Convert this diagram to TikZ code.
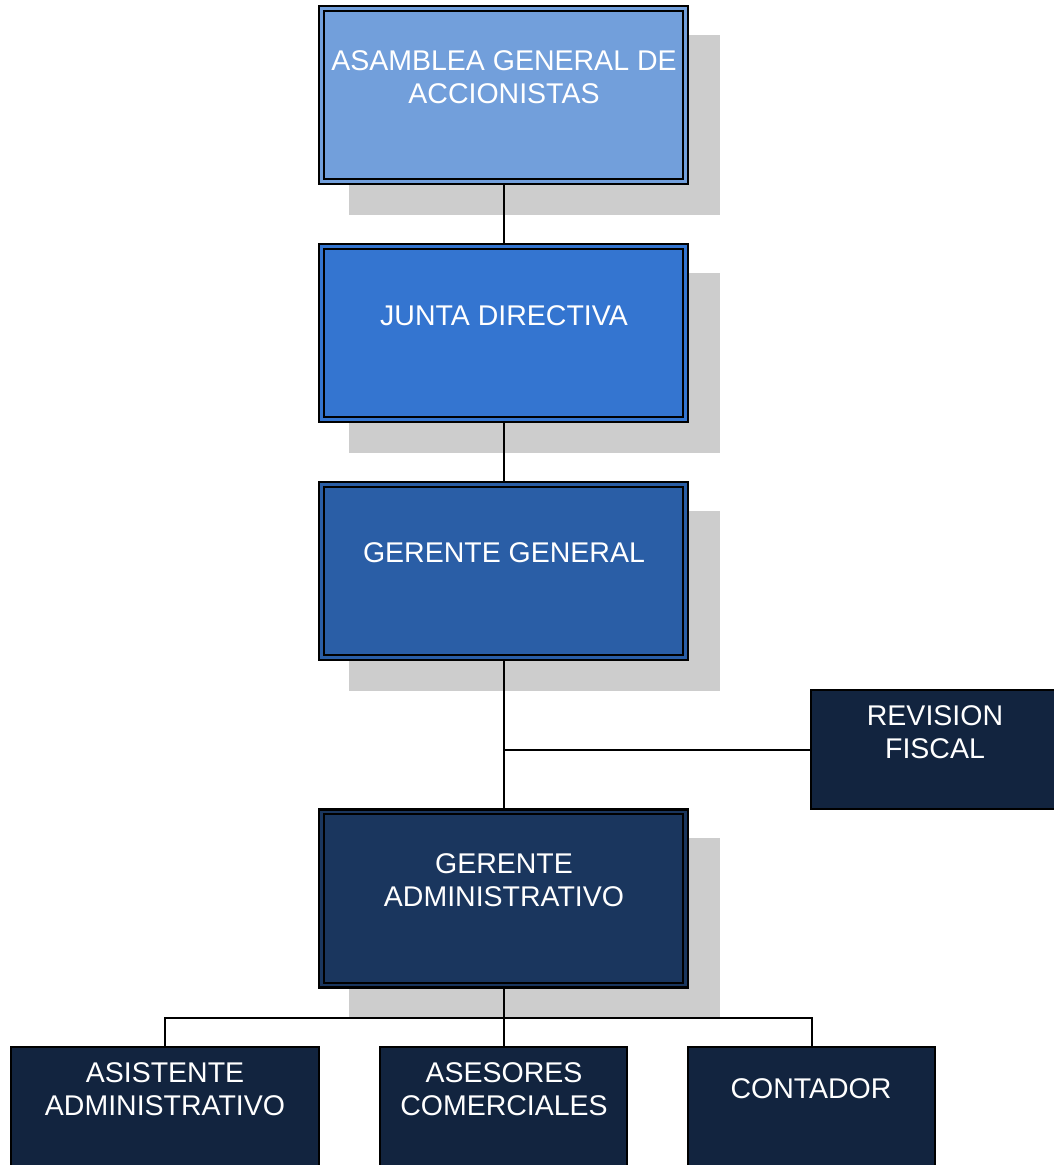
\documentclass[tikz,border=0pt]{standalone}
\usepackage{fontspec}
\setmainfont{Liberation Sans}
\definecolor{cA}{HTML}{729FDB}
\definecolor{cB}{HTML}{3475D0}
\definecolor{cC}{HTML}{2A5EA6}
\definecolor{cD}{HTML}{1A365E}
\definecolor{cE}{HTML}{12243F}
\definecolor{shadowgray}{HTML}{CDCDCD}
\begin{document}
\begin{tikzpicture}[x=1pt,y=-1pt,
  bigbox/.style={draw=black, line width=2.5pt, minimum width=369pt, minimum height=178pt, inner sep=0pt},
  smallbox/.style={draw=black, line width=1.8pt, fill=cE, inner sep=0pt},
  innerline/.style={draw=black, line width=2pt},
  label/.style={text=white, align=center, inner sep=0pt, font=\fontsize{28.5}{33}\selectfont},
  conn/.style={draw=black, line width=2pt},
  shadowbox/.style={fill=shadowgray}]
\useasboundingbox (0,0) rectangle (1054,1165);
% shadows
\fill[shadowbox] (349,35) rectangle (720,215);
\fill[shadowbox] (349,273) rectangle (720,453);
\fill[shadowbox] (349,511) rectangle (720,691);
\fill[shadowbox] (349,838) rectangle (720,1017);
% connectors first (under boxes)
\node[bigbox, fill=cA] (b1) at (503.5,95) {};
\node[bigbox, fill=cB] (b2) at (503.5,333) {};
\node[bigbox, fill=cC] (b3) at (503.5,571) {};
\node[bigbox, fill=cD] (b4) at (503.5,898.5) {};
\foreach \n in {b1,b2,b3,b4}{
  \draw[innerline] ([shift={(6,6)}]\n.north west) rectangle ([shift={(-6,-6)}]\n.south east);
}
\node[smallbox, minimum width=247pt, minimum height=119pt] (rf) at (934.5,749.5) {};
\node[smallbox, minimum width=308pt, minimum height=123pt] (asist) at (165,1108.5) {};
\node[smallbox, minimum width=247pt, minimum height=123pt] (ases) at (503.5,1108.5) {};
\node[smallbox, minimum width=247pt, minimum height=123pt] (cont) at (811.5,1108.5) {};
% labels
\node[label] (t1) at (504,77.5) {ASAMBLEA GENERAL DE\\ACCIONISTAS};
\node[label] (t2) at (504,316) {JUNTA DIRECTIVA};
\node[label] (t3) at (504,553) {GERENTE GENERAL};
\node[label] (t4) at (504,880.5) {GERENTE\\ADMINISTRATIVO};
\node[label] (t5) at (935,732) {REVISION\\FISCAL};
\node[label] (t6) at (165,1089) {ASISTENTE\\ADMINISTRATIVO};
\node[label] (t7) at (504,1089) {ASESORES\\COMERCIALES};
\node[label] (t8) at (811,1089) {CONTADOR};
% connectors
\draw[conn] (b1.south) -- (b2.north);
\draw[conn] (b2.south) -- (b3.north);
\draw[conn] (b3.south) -- (b4.north);
\coordinate (j) at (b3.south |- rf.west);
\draw[conn] (j) -- (rf.west);
\coordinate (bus) at (503.5,1018);
\draw[conn] (b4.south) -- (bus);
\draw[conn] (asist.north) -- (asist.north |- bus) -- (cont.north |- bus) -- (cont.north);
\draw[conn] (bus) -- (ases.north);
\end{tikzpicture}
\end{document}
